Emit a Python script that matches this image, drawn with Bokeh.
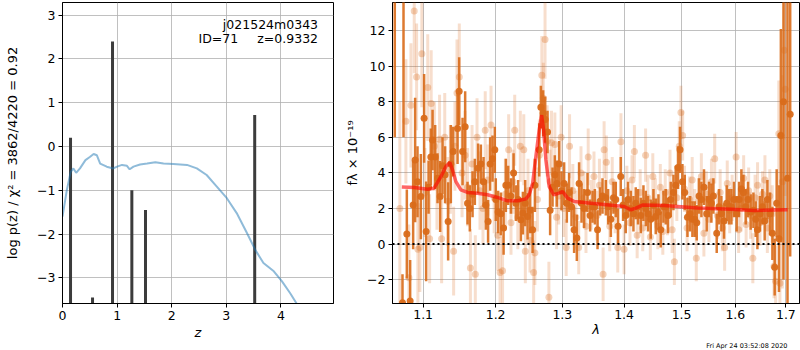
import numpy as np
from bokeh.plotting import figure
from bokeh.layouts import row
from bokeh.models import Range1d, FixedTicker, PrintfTickFormatter, Label, Span, ColumnDataSource, Title
from bokeh.embed import file_html
from bokeh.resources import INLINE

# ---------------- left panel: p(z) ----------------
pz_z = [0.0, 0.08, 0.15, 0.20, 0.25, 0.32, 0.42, 0.50, 0.57, 0.63, 0.69, 0.81, 0.93, 1.00,
        1.09, 1.18, 1.23, 1.30, 1.42, 1.55, 1.70, 1.85, 2.03, 2.28, 2.46, 2.64, 2.83, 3.01,
        3.19, 3.38, 3.53, 3.68, 3.87, 4.02, 4.17, 4.29, 4.35]
pz_logp = [-1.60, -0.99, -0.58, -0.50, -0.60, -0.50, -0.31, -0.24, -0.17, -0.20, -0.39, -0.46,
           -0.50, -0.46, -0.42, -0.44, -0.52, -0.46, -0.41, -0.39, -0.36, -0.39, -0.40, -0.42,
           -0.50, -0.65, -0.92, -1.18, -1.52, -1.98, -2.36, -2.66, -2.85, -3.08, -3.35, -3.59, -3.72]
chi2_z = [0.147, 0.55, 0.916, 1.27, 1.52, 3.52]
chi2_top = [0.20, -3.45, 2.40, -1.00, -1.45, 0.72]

# ---------------- right panel: spectrum ----------------
dark_wave = [1.0632, 1.0731, 1.0744, 1.0787, 1.0830, 1.0869, 1.0895, 1.0926, 1.0970, 1.1013,
             1.1040, 1.1072, 1.1102, 1.1125, 1.1160, 1.1192, 1.1227, 1.1259, 1.1294, 1.1335,
             1.1372, 1.1403, 1.1464, 1.1486, 1.1533, 1.1569, 1.1602, 1.1634, 1.1672, 1.1704,
             1.1750, 1.1789, 1.1827, 1.1860, 1.1892, 1.1921, 1.1955, 1.1988, 1.2002, 1.2036,
             1.2075, 1.2115, 1.2148, 1.2182, 1.2222, 1.2261, 1.2295, 1.2329, 1.2369, 1.2399,
             1.2433, 1.2469, 1.2508, 1.2544, 1.2579, 1.2644, 1.2669, 1.2704, 1.2735, 1.2771,
             1.2811, 1.2848, 1.2883, 1.2914, 1.2950, 1.2987, 1.3028, 1.3070, 1.3106, 1.3144,
             1.3185, 1.3228, 1.3264, 1.3303, 1.3344, 1.3399, 1.3441, 1.3480, 1.3517, 1.3561,
             1.3603, 1.3642, 1.3696, 1.3734, 1.3779, 1.3823, 1.3861, 1.3899, 1.3944, 1.3983,
             1.4028, 1.4067, 1.4113, 1.4158, 1.4197, 1.4236, 1.4283, 1.4329, 1.4369, 1.4408,
             1.4455, 1.4502, 1.4542, 1.4589, 1.4629, 1.4677, 1.4717, 1.4758, 1.4806, 1.4854,
             1.4895, 1.4936, 1.4972, 1.5015, 1.5057, 1.5106, 1.5153, 1.5196, 1.5238, 1.5275,
             1.5317, 1.5361, 1.5409, 1.5459, 1.5502, 1.5546, 1.5584, 1.5646, 1.5689, 1.5734,
             1.5783, 1.5835, 1.5878, 1.5924, 1.5974, 1.6025, 1.6070, 1.6116, 1.6155, 1.6200,
             1.6245, 1.6297, 1.6350, 1.6395, 1.6429, 1.6480, 1.6527, 1.6573, 1.6627, 1.6679,
             1.6727, 1.6773, 1.6813, 1.6860, 1.6898, 1.6951, 1.7033, 1.7088]
dark_flux = [14.0, -3.3, 14.0, 0.56, -3.2, 2.2, 4.73, 3.5, 2.67, 7.07,
             0.71, 3.2, 4.9, 5.85, 4.9, 3.7, 2.67, 4.4, 3.9, 1.27,
             4.5, 5.2, 6.5, 8.6, 5.2, 6.6, 2.3, 2.0, 2.8, 3.5,
             4.26, 4.5, 3.5, 2.2, 1.27, 4.5, 4.8, 5.3, 2.5, 1.8,
             1.7, 0.9, 3.3, 3.3, 2.7, 4.0, 2.3, 2.5, 1.36, 1.74,
             2.3, 1.55, 1.9, 0.8, 3.3, 5.3, 7.7, 7.35, 7.0, 6.3,
             1.9, 3.2, 3.9, 3.4, 4.5, 3.0, 3.4, 2.3, 2.9, 2.1,
             0.8, 0.34, 3.4, 2.3, 2.0, 2.9, 1.6, 2.1, 2.1, 0.8,
             2.4, 2.7, 2.6, 2.1, 1.4, 2.6, 2.5, 1.0, 3.8, 2.2,
             1.6, 2.5, 2.0, 1.7, 2.3, 2.1, 1.6, 2.3, 2.0, 1.7,
             1.4, 2.2, 1.55, 1.8, 0.8, 2.1, 2.1, 1.6, 2.5, 2.9,
             3.3, 4.3, 5.3, 3.5, 2.9, 1.5, 1.7, 1.4, 1.4, 1.2,
             2.7, 2.5, 3.2, 1.7, 2.5, 2.3, 2.7, 0.6, 2.1, 1.7,
             1.3, 2.3, 2.1, 2.1, 2.5, 1.7, 2.5, 3.1, 2.9, 2.1,
             2.5, 1.8, 1.9, 1.4, 0.8, 1.7, 2.1, 1.3, 2.5, 1.7,
             0.6, -1.3, 2.3, 0.3, 6.1, 8.0, 3.7, 7.3]
dark_err = [8.0, 1.6, 8.0, 2.5, 2.3, 2.5, 3.5, 2.0, 2.4, 2.5,
            2.8, 1.5, 1.6, 1.7, 1.8, 1.4, 2.0, 1.6, 1.6, 2.2,
            2.2, 1.4, 2.0, 1.9, 1.9, 2.0, 1.2, 1.3, 1.3, 1.3,
            1.4, 1.1, 1.4, 1.4, 1.2, 1.5, 1.3, 1.3, 1.2, 1.2,
            1.2, 1.5, 1.5, 1.1, 1.0, 1.1, 1.0, 1.1, 1.2, 1.2,
            1.3, 1.3, 1.3, 1.3, 1.5, 1.5, 1.2, 1.3, 1.3, 1.2,
            1.4, 1.1, 1.1, 1.3, 1.3, 1.1, 1.2, 1.1, 1.1, 1.1,
            1.3, 1.3, 1.2, 1.1, 1.1, 1.1, 0.9, 0.9, 1.0, 1.1,
            0.8, 1.0, 1.0, 1.0, 1.0, 0.9, 1.0, 1.0, 1.1, 0.9,
            1.0, 1.0, 1.0, 1.0, 0.9, 1.0, 1.0, 1.0, 1.0, 1.0,
            1.1, 0.9, 1.0, 1.0, 1.0, 0.9, 1.0, 1.0, 1.0, 1.0,
            1.1, 1.2, 1.3, 1.0, 1.0, 1.1, 1.0, 1.0, 1.0, 1.0,
            1.0, 1.0, 1.0, 1.0, 1.0, 1.1, 1.0, 1.1, 1.0, 1.0,
            1.0, 1.0, 1.0, 1.0, 1.0, 1.0, 1.0, 1.1, 1.0, 1.0,
            1.0, 1.0, 1.0, 1.0, 1.1, 1.0, 1.0, 1.1, 1.1, 1.2,
            1.5, 1.6, 1.9, 3.0, 6.0, 10.0, 10.0, 8.0]

light_wave = [1.0697, 1.0775, 1.0814, 1.0840, 1.0883, 1.0914, 1.0931, 1.0957, 1.0983, 1.1024,
              1.1061, 1.1086, 1.1107, 1.1149, 1.1184, 1.1219, 1.1247, 1.1289, 1.1331, 1.1365,
              1.1410, 1.1428, 1.1456, 1.1488, 1.1526, 1.1568, 1.1603, 1.1642, 1.1665, 1.1711,
              1.1735, 1.1777, 1.1819, 1.1851, 1.1888, 1.1934, 1.1979, 1.2030, 1.2064, 1.2100,
              1.2141, 1.2189, 1.2223, 1.2253, 1.2278, 1.2324, 1.2361, 1.2412, 1.2435, 1.2475,
              1.2505, 1.2560, 1.2579, 1.2617, 1.2646, 1.2684, 1.2706, 1.2733, 1.2765, 1.2792,
              1.2810, 1.2832, 1.2884, 1.2911, 1.2944, 1.2981, 1.3019, 1.3060, 1.3113, 1.3165,
              1.3213, 1.3258, 1.3294, 1.3342, 1.3374, 1.3410, 1.3458, 1.3503, 1.3552, 1.3592,
              1.3652, 1.3668, 1.3705, 1.3761, 1.3802, 1.3850, 1.3894, 1.3947, 1.4000, 1.4047,
              1.4099, 1.4134, 1.4174, 1.4221, 1.4273, 1.4317, 1.4366, 1.4404, 1.4448, 1.4491,
              1.4535, 1.4578, 1.4622, 1.4666, 1.4709, 1.4749, 1.4793, 1.4831, 1.4871, 1.4915,
              1.4958, 1.4988, 1.5019, 1.5052, 1.5099, 1.5146, 1.5192, 1.5239, 1.5267, 1.5313,
              1.5360, 1.5407, 1.5453, 1.5500, 1.5547, 1.5608, 1.5659, 1.5711, 1.5752, 1.5795,
              1.5845, 1.5892, 1.5938, 1.6014, 1.6062, 1.6111, 1.6160, 1.6208, 1.6257, 1.6296,
              1.6339, 1.6383, 1.6432, 1.6480, 1.6529, 1.6578, 1.6626, 1.6675, 1.6724, 1.6759,
              1.6792, 1.6856, 1.6879, 1.6928, 1.6967, 1.6986]
light_flux = [2.0, 6.9, -1.9, 7.8, 13.1, 9.4, -0.3, -0.2, 10.7, 2.9,
              8.8, 0.3, 7.9, 5.5, 3.3, 5.9, 0.3, 6.0, 2.4, 4.2,
              -0.4, 5.5, 8.5, 9.4, 4.0, 5.0, 3.2, -1.35, 4.5, -1.7,
              6.0, 3.0, 2.0, 6.4, 3.6, 6.7, 2.6, 0.5, -1.6, -1.5,
              2.8, 5.3, 1.2, 3.5, 6.4, 1.5, 5.5, 5.3, -0.4, 3.0,
              0.2, -1.6, -0.5, 2.5, 5.0, 9.5, 8.2, 11.5, 5.8, -3.0,
              3.5, 5.7, 5.6, 1.5, 2.7, 6.0, 2.0, -0.2, 5.5, 3.0,
              1.5, -0.2, 4.0, 2.6, 1.0, 4.9, 2.2, 3.8, 1.6, 3.3,
              -1.7, 5.3, 4.6, 1.0, 3.5, 2.0, -0.2, 5.75, -0.3, 3.0,
              1.2, 3.6, 5.2, 0.5, 2.9, 0.9, 5.0, 2.6, 0.4, 3.8,
              2.4, 1.0, 3.2, 0.7, 2.9, 1.8, 4.0, 0.8, -1.0, 2.6,
              5.5, 7.4, 6.1, 3.1, 0.9, 2.5, 3.6, 1.8, -0.8, 2.4,
              3.8, 0.6, 2.8, 1.4, 3.5, 4.8, 1.6, 2.9, 0.9, -0.2,
              3.4, 1.9, 2.6, 4.9, 0.8, 2.0, 3.7, 1.1, 3.0, 1.6,
              -0.8, 2.6, 3.3, 1.2, 2.8, 3.6, 0.9, 2.7, 1.7, -1.25,
              -2.1, 6.2, -2.2, 3.5, 10.9, 8.7]
light_err = [6.0, 3.5, 3.0, 3.5, 3.5, 3.0, 3.0, 2.5, 3.0, 2.5,
             3.0, 2.5, 3.0, 2.5, 2.5, 2.5, 2.5, 2.5, 2.5, 2.5,
             2.5, 2.5, 3.0, 3.0, 2.5, 2.5, 2.2, 2.2, 2.2, 2.2,
             2.2, 2.2, 2.0, 2.2, 2.0, 2.2, 2.0, 2.0, 2.0, 2.0,
             2.0, 2.0, 1.8, 1.8, 2.0, 1.8, 2.0, 2.0, 1.8, 1.8,
             1.8, 1.8, 1.8, 1.8, 2.0, 2.2, 2.0, 2.2, 2.0, 2.0,
             1.8, 1.8, 1.8, 1.8, 1.6, 1.8, 1.6, 1.6, 1.8, 1.5,
             1.5, 1.5, 1.5, 1.5, 1.5, 1.6, 1.4, 1.4, 1.4, 1.5,
             1.5, 1.6, 1.5, 1.4, 1.4, 1.4, 1.4, 1.6, 1.4, 1.4,
             1.3, 1.4, 1.5, 1.3, 1.3, 1.3, 1.5, 1.3, 1.3, 1.3,
             1.3, 1.3, 1.3, 1.3, 1.3, 1.3, 1.3, 1.3, 1.3, 1.3,
             1.4, 1.5, 1.4, 1.3, 1.3, 1.3, 1.3, 1.3, 1.3, 1.3,
             1.3, 1.3, 1.3, 1.3, 1.3, 1.4, 1.3, 1.3, 1.3, 1.3,
             1.3, 1.3, 1.3, 1.4, 1.3, 1.3, 1.3, 1.3, 1.3, 1.3,
             1.4, 1.3, 1.3, 1.3, 1.3, 1.4, 1.4, 1.5, 1.6, 1.8,
             2.0, 3.0, 2.5, 6.0, 5.0, 6.0]

model_wave = [1.0722, 1.0882, 1.1058, 1.1146, 1.1237, 1.1304, 1.1359, 1.1395, 1.1441, 1.1510,
              1.1602, 1.1742, 1.1884, 1.2027, 1.2173, 1.2320, 1.2443, 1.2493, 1.2545, 1.2594,
              1.2644, 1.2681, 1.2711, 1.2746, 1.2797, 1.2865, 1.2951, 1.3004, 1.3083, 1.3187,
              1.3453, 1.3835, 1.4001, 1.4114, 1.4199, 1.4314, 1.4690, 1.5292, 1.5916, 1.6366,
              1.7034]
model_flux = [3.21, 3.18, 3.08, 3.14, 3.79, 4.36, 4.58, 4.17, 3.51, 3.05,
              2.90, 2.86, 2.77, 2.62, 2.43, 2.43, 2.54, 2.77, 3.42, 4.92,
              6.41, 7.25, 6.41, 4.73, 3.23, 2.77, 2.86, 2.95, 2.58, 2.39,
              2.30, 2.17, 2.11, 1.93, 2.02, 2.19, 2.17, 2.02, 1.96, 1.89,
              1.93]

label_name = "j021524m0343"
label_id = "ID=71"
label_z = "z=0.9332"
timestamp = "Fri Apr 24 03:52:08 2020"

FONT = "DejaVu Sans"
ORANGE = "#d96b1a"


def style(p):
    p.outline_line_color = "black"
    p.outline_line_width = 1
    p.outline_line_alpha = 1
    p.background_fill_color = "white"
    p.border_fill_color = "white"
    for ax in p.axis:
        ax.axis_line_color = "black"
        ax.major_tick_in = 0
        ax.major_tick_out = 4
        ax.minor_tick_in = 0
        ax.minor_tick_out = 0
        ax.major_tick_line_color = "black"
        ax.major_label_text_font = FONT
        ax.major_label_text_font_size = "12.5px"
        ax.major_label_text_color = "black"
        ax.major_label_standoff = 3
        ax.axis_label_text_font = FONT
        ax.axis_label_text_font_size = "13px"
        ax.axis_label_text_color = "black"
        ax.axis_label_text_font_style = "normal"
    for g in p.grid:
        g.grid_line_color = "#b0b0b0"
        g.grid_line_width = 0.8


# ---------------- left figure ----------------
p1 = figure(frame_width=271, frame_height=301, min_border_left=62, min_border_right=7,
            min_border_top=2, min_border_bottom=47,
            x_range=Range1d(0, 4.963), y_range=Range1d(-3.585, 3.289),
            output_backend="svg", toolbar_location=None)
style(p1)
xt1 = FixedTicker(ticks=[0, 1, 2, 3, 4])
yt1 = FixedTicker(ticks=[-3, -2, -1, 0, 1, 2, 3])
p1.xaxis.ticker = xt1
p1.xgrid.ticker = xt1
p1.yaxis.ticker = yt1
p1.ygrid.ticker = yt1
p1.yaxis.major_label_overrides = {-3: "\u22123", -2: "\u22122", -1: "\u22121"}
p1.xaxis.axis_label = "z"
p1.xaxis.axis_label_text_font_style = "italic"
p1.yaxis.axis_label = "log p(z) / \u03c7\u00b2 = 3862/4220 = 0.92"
p1.yaxis.axis_label_standoff = 14
p1.xaxis.axis_label_standoff = 2

p1.segment(x0=chi2_z, y0=-4.0, x1=chi2_z, y1=chi2_top, line_color="#3c3c3c", line_width=3)
p1.line(pz_z, pz_logp, line_color="#1f77b4", line_alpha=0.5, line_width=2)

for txt, xx, yy in ((label_name, 4.68, 2.79), (label_id, 3.218, 2.47), (label_z, 4.68, 2.47)):
    p1.add_layout(Label(x=xx, y=yy, text=txt, text_align="right", text_baseline="alphabetic",
                        text_font=FONT, text_font_size="12.5px", text_color="black"))

# ---------------- right figure ----------------
p2 = figure(frame_width=407, frame_height=301, min_border_left=52, min_border_right=1,
            min_border_top=2, min_border_bottom=47, x_axis_type="log",
            x_range=Range1d(1.0603, 1.728), y_range=Range1d(-3.345, 13.585),
            output_backend="svg", toolbar_location=None)
style(p2)
xt2 = FixedTicker(ticks=[1.1, 1.2, 1.3, 1.4, 1.5, 1.6, 1.7])
yt2 = FixedTicker(ticks=[-2, 0, 2, 4, 6, 8, 10, 12])
p2.xaxis.ticker = xt2
p2.xgrid.ticker = xt2
p2.xaxis.formatter = PrintfTickFormatter(format="%.1f")
p2.yaxis.ticker = yt2
p2.ygrid.ticker = yt2
p2.yaxis.major_label_overrides = {-2: "\u22122"}
p2.xaxis.axis_label = "\u03bb"
p2.xaxis.axis_label_text_font_style = "italic"
p2.yaxis.axis_label = "f\u03bb \u00d7 10\u207b\u00b9\u2079"
p2.yaxis.axis_label_standoff = 4
p2.yaxis.major_label_standoff = 3
p2.xaxis.axis_label_standoff = 0
p2.xaxis.major_label_standoff = 2

lw = np.array(light_wave); lf = np.array(light_flux); le = np.array(light_err)
dw = np.array(dark_wave); df = np.array(dark_flux); de = np.array(dark_err)

light_src = ColumnDataSource(dict(x=lw, y=lf, lo=lf - le, hi=lf + le))
dark_src = ColumnDataSource(dict(x=dw, y=df, lo=df - de, hi=df + de))

p2.segment(x0="x", y0="lo", x1="x", y1="hi", source=light_src,
           line_color=ORANGE, line_alpha=0.22, line_width=3)
p2.scatter(x="x", y="y", source=light_src, size=7, fill_color=ORANGE, fill_alpha=0.3,
           line_color=None)
p2.segment(x0="x", y0="lo", x1="x", y1="hi", source=dark_src,
           line_color=ORANGE, line_alpha=0.9, line_width=2.5)
p2.scatter(x="x", y="y", source=dark_src, size=7, fill_color=ORANGE, fill_alpha=0.95,
           line_color=None)
p2.line(model_wave, model_flux, line_color="red", line_alpha=0.6, line_width=3.5)
p2.add_layout(Span(location=0, dimension="width", line_color="black", line_width=2,
                   line_dash="2 3"))

p2.add_layout(Title(text=timestamp, align="right", offset=12, standoff=0,
                    text_font=FONT, text_font_size="6.5px", text_font_style="normal",
                    text_color="black"), "below")

layout = row(p1, p2)
open("out.html", "w").write(file_html(layout, INLINE))
